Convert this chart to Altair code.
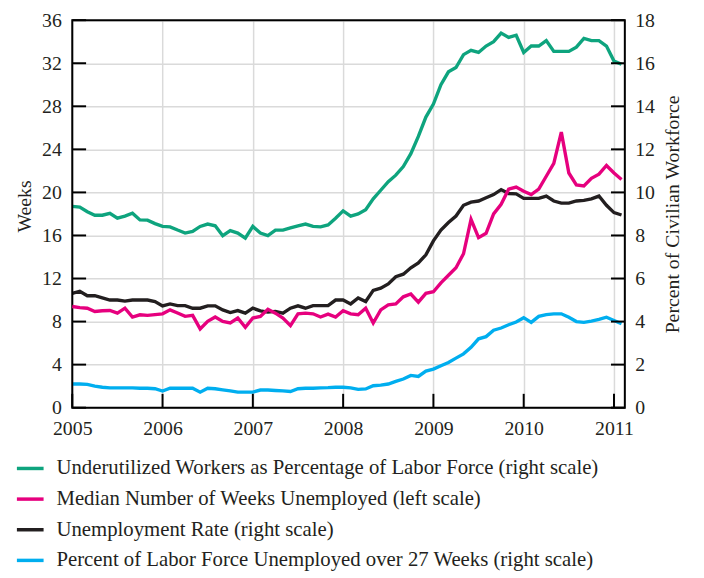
import altair as alt
import pandas as pd

# ---- data, monthly Jan 2005 .. Feb 2011 ----
underutilized = [
    9.35, 9.32, 9.10, 8.94, 8.94, 9.03, 8.80, 8.90, 9.03, 8.72, 8.71, 8.55,
    8.42, 8.40, 8.25, 8.11, 8.19, 8.42, 8.53, 8.45, 7.99, 8.22, 8.11, 7.87,
    8.42, 8.11, 7.99, 8.25, 8.25, 8.35, 8.45, 8.53, 8.42, 8.40, 8.49, 8.80,
    9.14, 8.90, 9.00, 9.20, 9.70, 10.10, 10.50, 10.80, 11.20, 11.80, 12.60, 13.50,
    14.10, 15.00, 15.60, 15.80, 16.40, 16.60, 16.50, 16.80, 17.00, 17.40, 17.20, 17.30,
    16.50, 16.80, 16.80, 17.05, 16.55, 16.55, 16.55, 16.75, 17.15, 17.05, 17.05, 16.80,
    16.10, 15.95,
]
median_weeks = [
    9.40, 9.30, 9.24, 8.94, 9.00, 9.03, 8.78, 9.24, 8.42, 8.63, 8.57, 8.65,
    8.72, 9.09, 8.80, 8.48, 8.57, 7.32, 8.02, 8.42, 8.02, 7.87, 8.33, 7.47,
    8.33, 8.48, 9.15, 8.78, 8.33, 7.62, 8.72, 8.78, 8.72, 8.42, 8.69, 8.42,
    9.00, 8.72, 8.63, 9.24, 7.87, 9.09, 9.55, 9.64, 10.30, 10.56, 9.80, 10.62,
    10.77, 11.60, 12.30, 13.00, 14.30, 17.50, 15.80, 16.20, 18.00, 18.90, 20.30, 20.50,
    20.10, 19.80, 20.30, 21.50, 22.70, 25.60, 21.80, 20.70, 20.60, 21.30, 21.70, 22.50,
    21.80, 21.20,
]
unemployment = [
    5.31, 5.41, 5.20, 5.20, 5.10, 5.00, 5.00, 4.95, 5.00, 5.00, 5.00, 4.93,
    4.73, 4.82, 4.74, 4.74, 4.62, 4.62, 4.73, 4.73, 4.54, 4.42, 4.51, 4.39,
    4.62, 4.50, 4.44, 4.47, 4.39, 4.62, 4.73, 4.62, 4.74, 4.74, 4.74, 5.00,
    5.00, 4.82, 5.10, 4.93, 5.45, 5.55, 5.75, 6.08, 6.20, 6.50, 6.72, 7.10,
    7.75, 8.25, 8.60, 8.90, 9.40, 9.55, 9.60, 9.75, 9.90, 10.13, 9.95, 9.93,
    9.72, 9.72, 9.72, 9.83, 9.60, 9.50, 9.50, 9.60, 9.63, 9.70, 9.83, 9.40,
    9.06, 8.95,
]
long_term = [
    1.10, 1.10, 1.08, 1.00, 0.95, 0.92, 0.92, 0.92, 0.92, 0.90, 0.90, 0.88,
    0.77, 0.90, 0.90, 0.90, 0.90, 0.72, 0.90, 0.88, 0.83, 0.78, 0.72, 0.72,
    0.72, 0.82, 0.82, 0.80, 0.78, 0.75, 0.88, 0.90, 0.90, 0.92, 0.93, 0.95,
    0.95, 0.92, 0.85, 0.87, 1.02, 1.05, 1.10, 1.22, 1.33, 1.50, 1.45, 1.70,
    1.79, 1.95, 2.10, 2.30, 2.50, 2.80, 3.20, 3.30, 3.60, 3.70, 3.85, 3.98,
    4.18, 3.96, 4.24, 4.32, 4.36, 4.36, 4.20, 4.00, 3.96, 4.02, 4.10, 4.20,
    4.05, 3.90,
]

series_names = [
    "Underutilized Workers as Percentage of Labor Force (right scale)",
    "Median Number of Weeks Unemployed (left scale)",
    "Unemployment Rate (right scale)",
    "Percent of Labor Force Unemployed over 27 Weeks (right scale)",
]
series_colors = ["#0ea47e", "#e6007e", "#231f20", "#00aeef"]

year_ticks = [2005, 2006, 2007, 2008, 2009, 2010, 2011]
left_ticks = [0, 4, 8, 12, 16, 20, 24, 28, 32, 36]
right_ticks = [0, 2, 4, 6, 8, 10, 12, 14, 16, 18]

months = [2005 + i / 12 for i in range(len(underutilized))]

right_df = pd.concat([
    pd.DataFrame({"date": months, "value": underutilized, "series": series_names[0]}),
    pd.DataFrame({"date": months, "value": unemployment, "series": series_names[2]}),
    pd.DataFrame({"date": months, "value": long_term, "series": series_names[3]}),
])
left_df = pd.DataFrame({"date": months, "value": median_weeks, "series": series_names[1]})

W, H = 559, 392
FONT = "Liberation Serif"
TXT = "#231f20"
GRID = "#dadada"
TICK_FS = 20
TL = 14  # inward tick length

color = alt.Color(
    "series:N",
    scale=alt.Scale(domain=series_names, range=series_colors),
    legend=alt.Legend(
        title=None, orient="none", legendX=-58, legendY=438,
        symbolType="stroke", symbolSize=729, symbolStrokeWidth=3.5,
        labelFontSize=21, labelFont=FONT, labelColor=TXT, labelLimit=800,
        labelOffset=11, rowPadding=5, direction="vertical",
    ),
)

x_enc = alt.X(
    "date:Q",
    scale=alt.Scale(domain=[2005, 2011.12], nice=False, zero=False),
    axis=alt.Axis(values=year_ticks, format="d", title=None, grid=True,
                  gridColor=GRID, gridWidth=1.5, ticks=False, domain=False,
                  labelFlush=False, labelPadding=11, labelFontSize=TICK_FS,
                  labelFont=FONT, labelColor=TXT),
)

y_right = alt.Y(
    "value:Q",
    scale=alt.Scale(domain=[0, 18], nice=False),
    axis=alt.Axis(orient="right", values=right_ticks, title="Percent of Civilian Workforce",
                  grid=True, gridColor=GRID, gridWidth=1.5, ticks=False, domain=False,
                  labelFlush=False, labelPadding=10, labelFontSize=TICK_FS,
                  labelFont=FONT, labelColor=TXT,
                  titleFontSize=20, titleFont=FONT, titleFontWeight="normal",
                  titleColor=TXT, titleAngle=270, titleX=48, titleY=H / 2,
                  titleAlign="center", titleBaseline="middle"),
)
y_left = alt.Y(
    "value:Q",
    scale=alt.Scale(domain=[0, 36], nice=False),
    axis=alt.Axis(orient="left", values=left_ticks, title="Weeks",
                  grid=False, ticks=False, domain=False,
                  labelFlush=False, labelPadding=11, labelFontSize=TICK_FS,
                  labelFont=FONT, labelColor=TXT,
                  titleFontSize=20, titleFont=FONT, titleFontWeight="normal",
                  titleColor=TXT, titleAngle=270, titleX=-48, titleY=188,
                  titleAlign="center", titleBaseline="middle"),
)

right_lines = alt.Chart(right_df).mark_line(strokeWidth=3.4).encode(
    x=x_enc, y=y_right, color=color
)
right_tick_marks = alt.Chart(pd.DataFrame({"value": right_ticks})).mark_rule(
    color="black", strokeWidth=2
).encode(y=y_right, x=alt.value(W), x2=alt.value(W - TL))
x_tick_marks = alt.Chart(pd.DataFrame({"date": year_ticks})).mark_rule(
    color="black", strokeWidth=2
).encode(x=x_enc, y=alt.value(H), y2=alt.value(H - TL))
frame = alt.Chart(pd.DataFrame({"date": [2005]})).mark_rect(
    fill=None, stroke="black", strokeWidth=2
).encode(x=alt.value(0), x2=alt.value(W), y=alt.value(0), y2=alt.value(H))

left_line = alt.Chart(left_df).mark_line(strokeWidth=3.4).encode(
    x=x_enc, y=y_left, color=color
)
left_tick_marks = alt.Chart(pd.DataFrame({"value": left_ticks})).mark_rule(
    color="black", strokeWidth=2
).encode(y=y_left, x=alt.value(0), x2=alt.value(TL))

right_layer = alt.layer(right_lines, right_tick_marks, x_tick_marks, frame)
left_layer = alt.layer(left_line, left_tick_marks)

chart = alt.layer(right_layer, left_layer).resolve_scale(y="independent").properties(
    width=W, height=H,
    padding={"left": 65, "top": 9, "right": 72, "bottom": 170},
    autosize="none",
    background="white",
).configure_view(stroke=None).configure(font=FONT)

chart.save("out.html", embed_options={"renderer": "svg", "actions": False})
